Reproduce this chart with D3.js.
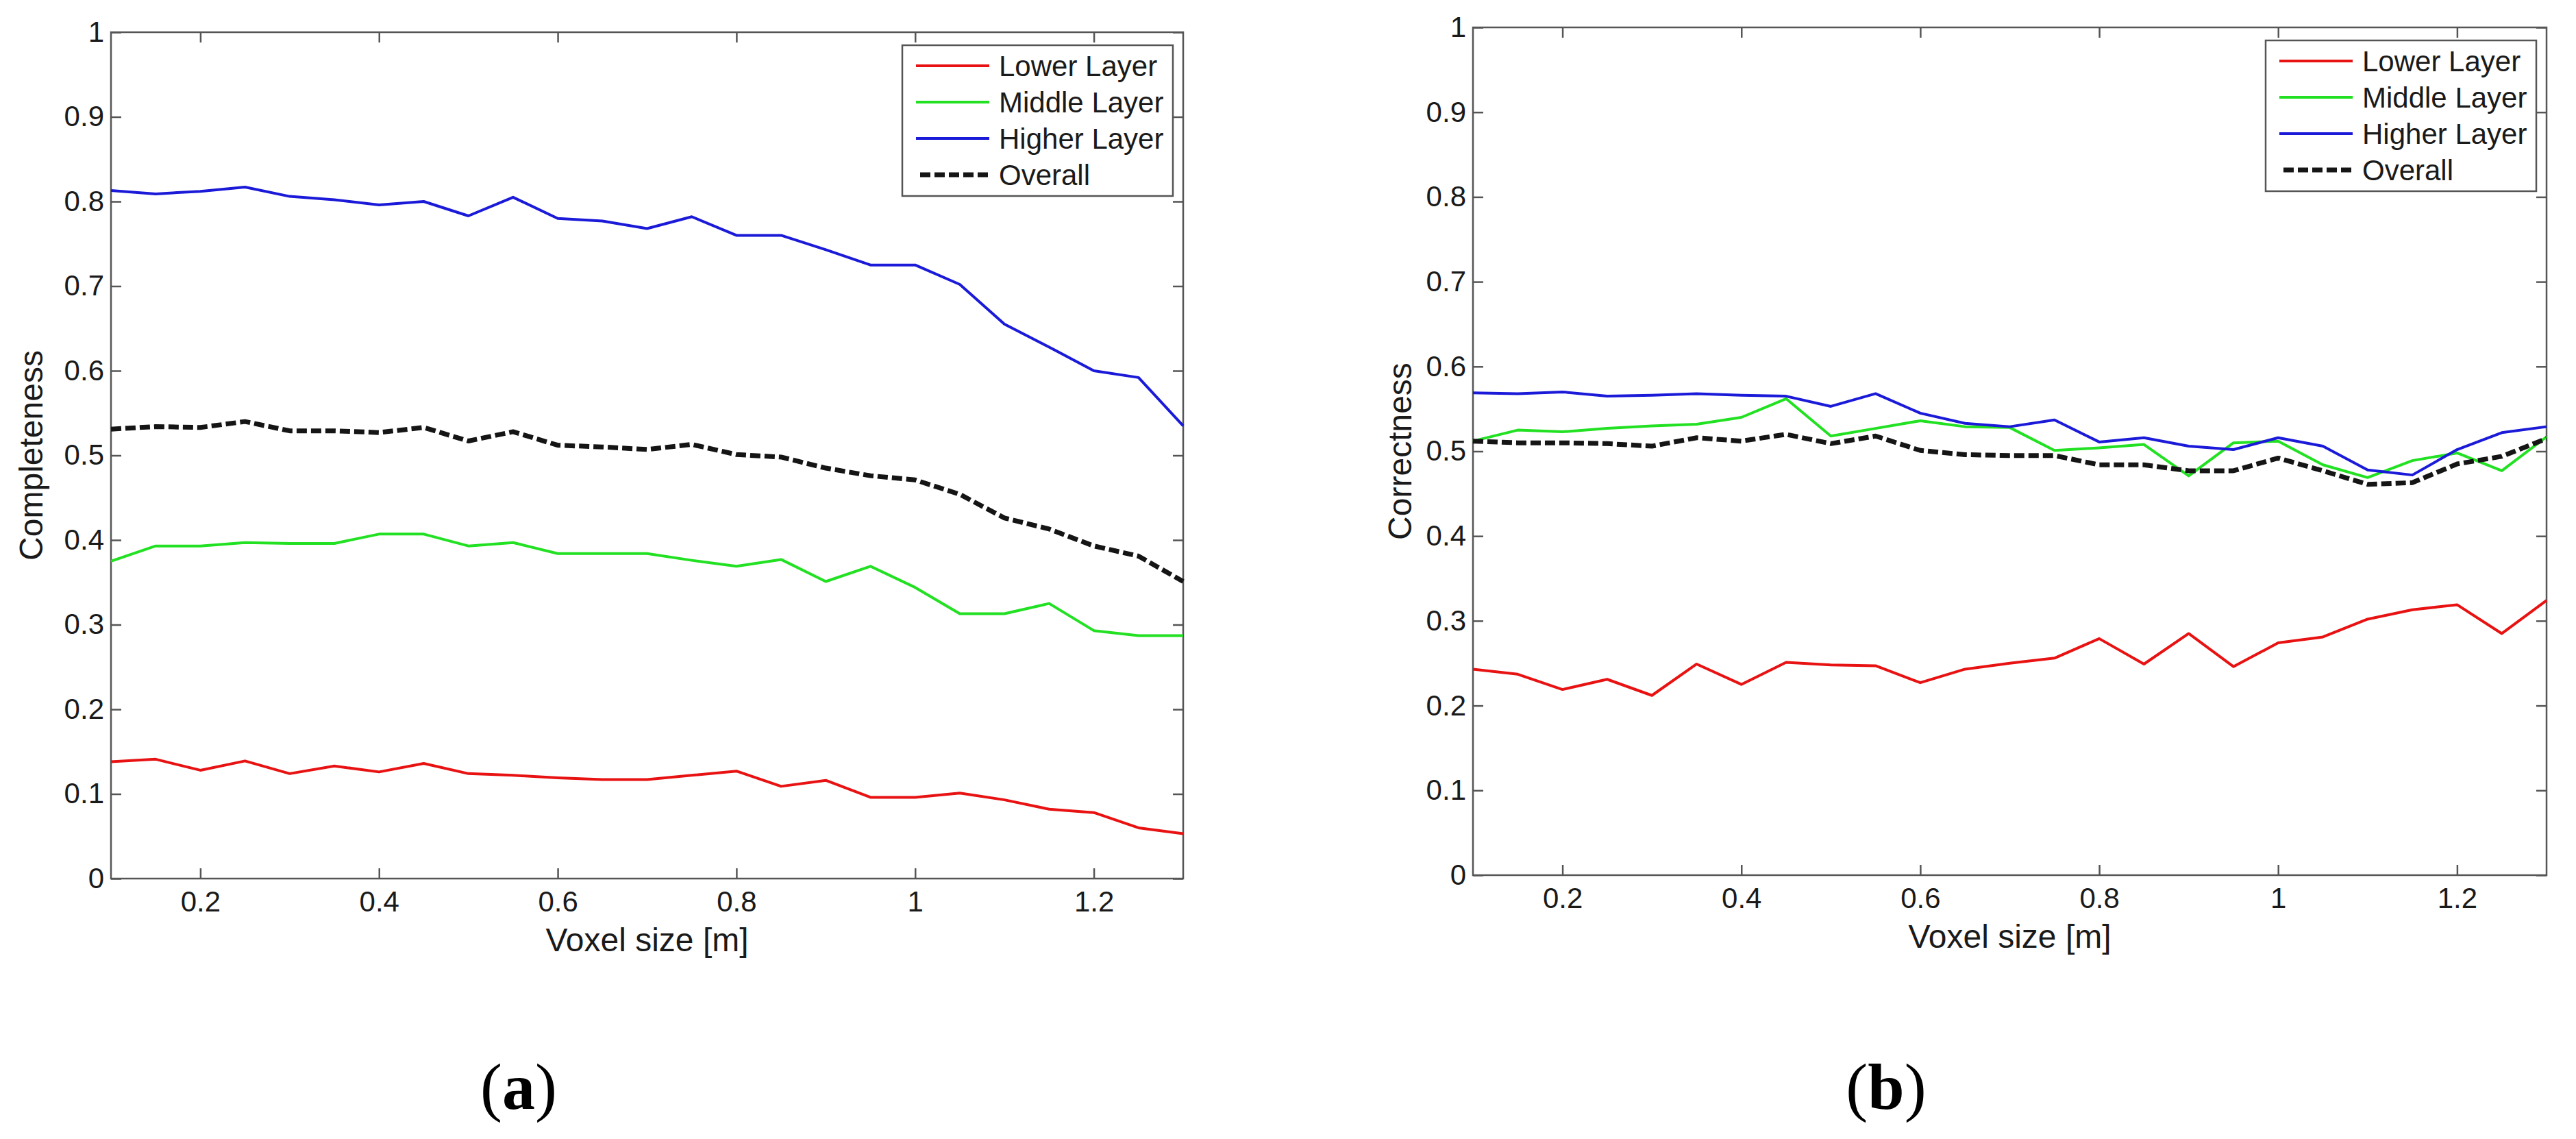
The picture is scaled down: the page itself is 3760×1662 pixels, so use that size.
<!DOCTYPE html>
<meta charset='utf-8'>
<style type="text/css">
  body { margin: 0; background: #fff; }
  svg text { font-family: "Liberation Sans", Arial, sans-serif; fill: #1a1a1a; }
  .tick line { stroke: #555; stroke-width: 2.5; }
  .domain { display: none; }
</style>
<body>
<div class="chart"></div>
<script src="https://cdn.jsdelivr.net/npm/d3@7"></script>
<script>

// voxel sizes along the x axis
var voxelSize = [0.1, 0.15, 0.2, 0.25, 0.3, 0.35, 0.4, 0.45, 0.5, 0.55, 0.6, 0.65, 0.7,
                 0.75, 0.8, 0.85, 0.9, 0.95, 1.0, 1.05, 1.1, 1.15, 1.2, 1.25, 1.3];

var xTicks = [0.2, 0.4, 0.6, 0.8, 1, 1.2];
var yTicks = [0, 0.1, 0.2, 0.3, 0.4, 0.5, 0.6, 0.7, 0.8, 0.9, 1];

var seriesNames = ['Lower Layer', 'Middle Layer', 'Higher Layer', 'Overall'];

// (a) completeness
var complLower  = [0.138, 0.141, 0.128, 0.139, 0.124, 0.133, 0.126, 0.136, 0.124, 0.122, 0.119, 0.117, 0.117,
                   0.122, 0.127, 0.109, 0.116, 0.096, 0.096, 0.101, 0.093, 0.082, 0.078, 0.060, 0.053];
var complMiddle = [0.375, 0.393, 0.393, 0.397, 0.396, 0.396, 0.407, 0.407, 0.393, 0.397, 0.384, 0.384, 0.384,
                   0.376, 0.369, 0.377, 0.351, 0.369, 0.344, 0.313, 0.313, 0.325, 0.293, 0.287, 0.287];
var complHigher = [0.813, 0.809, 0.812, 0.817, 0.806, 0.802, 0.796, 0.800, 0.783, 0.805, 0.780, 0.777, 0.768,
                   0.782, 0.760, 0.760, 0.743, 0.725, 0.725, 0.702, 0.655, 0.628, 0.600, 0.592, 0.535];
var complOverall = [0.531, 0.534, 0.533, 0.540, 0.529, 0.529, 0.527, 0.533, 0.517, 0.528, 0.512, 0.510, 0.507,
                    0.513, 0.501, 0.498, 0.485, 0.476, 0.471, 0.454, 0.426, 0.413, 0.393, 0.381, 0.351];

// (b) correctness
var corrLower  = [0.243, 0.237, 0.219, 0.231, 0.212, 0.249, 0.225, 0.251, 0.248, 0.247, 0.227, 0.243, 0.250,
                  0.256, 0.279, 0.249, 0.285, 0.246, 0.274, 0.281, 0.302, 0.313, 0.319, 0.285, 0.324];
var corrMiddle = [0.512, 0.525, 0.523, 0.527, 0.530, 0.532, 0.540, 0.562, 0.518, 0.527, 0.536, 0.529, 0.528,
                  0.501, 0.504, 0.508, 0.471, 0.510, 0.512, 0.484, 0.469, 0.489, 0.498, 0.477, 0.517];
var corrHigher = [0.569, 0.568, 0.570, 0.565, 0.566, 0.568, 0.566, 0.565, 0.553, 0.568, 0.545, 0.533, 0.529,
                  0.537, 0.511, 0.516, 0.506, 0.502, 0.516, 0.506, 0.478, 0.472, 0.502, 0.522, 0.529];
var corrOverall = [0.512, 0.510, 0.510, 0.509, 0.506, 0.516, 0.512, 0.520, 0.509, 0.518, 0.501, 0.496, 0.495,
                   0.495, 0.484, 0.484, 0.477, 0.477, 0.492, 0.477, 0.461, 0.463, 0.485, 0.494, 0.515];

var colors = ['#e81212', '#22e022', '#1a1ad8', '#151515'];

var svg = d3.select('.chart')
	.append('svg')
	.attr('width', 3760)
	.attr('height', 1662);

var panels = [
	{ left: 162, right: 1727, top: 47, bottom: 1282, yLabel: 'Completeness', yLabelX: 62,
	  letter: 'a', letterX: 757, data: [complLower, complMiddle, complHigher, complOverall] },
	{ left: 2150, right: 3717, top: 40, bottom: 1277, yLabel: 'Correctness', yLabelX: 2060,
	  letter: 'b', letterX: 2753, data: [corrLower, corrMiddle, corrHigher, corrOverall] }
];

panels.forEach(function(p){
	var x = d3.scaleLinear().domain([0.1, 1.3]).range([p.left, p.right]);
	var y = d3.scaleLinear().domain([0, 1]).range([p.bottom, p.top]);
	var fmt = d3.format('~g');
	var g = svg.append('g');

	// axes, ticks pointing inwards on all four sides
	g.append('g')
		.attr('transform', 'translate(0,' + p.bottom + ')')
		.call(d3.axisBottom(x).tickValues(xTicks).tickFormat(fmt).tickSizeInner(-15).tickSizeOuter(0).tickPadding(18))
		.selectAll('text').attr('font-size', 42).attr('fill', '#1a1a1a')
		.attr('font-family', '"Liberation Sans", Arial, sans-serif');
	g.append('g')
		.attr('transform', 'translate(0,' + p.top + ')')
		.call(d3.axisTop(x).tickValues(xTicks).tickFormat('').tickSizeInner(-15).tickSizeOuter(0));
	g.append('g')
		.attr('transform', 'translate(' + p.left + ',0)')
		.call(d3.axisLeft(y).tickValues(yTicks).tickFormat(fmt).tickSizeInner(-15).tickSizeOuter(0).tickPadding(10))
		.selectAll('text').attr('font-size', 42).attr('fill', '#1a1a1a')
		.attr('font-family', '"Liberation Sans", Arial, sans-serif');
	g.append('g')
		.attr('transform', 'translate(' + p.right + ',0)')
		.call(d3.axisRight(y).tickValues(yTicks).tickFormat('').tickSizeInner(-15).tickSizeOuter(0));

	g.append('rect')
		.attr('x', x(0.1)).attr('y', y(1))
		.attr('width', x(1.3) - x(0.1)).attr('height', y(0) - y(1))
		.attr('fill', 'none').attr('stroke', '#555').attr('stroke-width', 2.5);

	// series
	var line = d3.line()
		.x(function(d, i){ return x(voxelSize[i]); })
		.y(function(d){ return y(d); });

	p.data.forEach(function(values, k){
		g.append('path')
			.datum(values)
			.attr('d', line)
			.attr('fill', 'none')
			.attr('stroke', colors[k])
			.attr('stroke-width', k === 3 ? 7 : 4)
			.attr('stroke-dasharray', k === 3 ? '15,6' : null)
			.attr('stroke-linejoin', 'round');
	});

	// axis titles
	g.append('text')
		.attr('x', (p.left + p.right) / 2)
		.attr('y', p.bottom + 106)
		.attr('text-anchor', 'middle')
		.attr('font-size', 48)
		.text('Voxel size [m]');
	g.append('text')
		.attr('transform', 'translate(' + p.yLabelX + ',' + ((p.top + p.bottom) / 2) + ') rotate(-90)')
		.attr('text-anchor', 'middle')
		.attr('font-size', 48)
		.text(p.yLabel);

	// legend
	var lx = p.right - 410, ly = p.top + 19;
	var legend = g.append('g').attr('transform', 'translate(' + lx + ',' + ly + ')');
	legend.append('rect')
		.attr('width', 395).attr('height', 220)
		.attr('fill', '#fff').attr('stroke', '#555').attr('stroke-width', 2.5);
	seriesNames.forEach(function(name, k){
		var yy = 30 + k * 53;
		legend.append('line')
			.attr('x1', k === 3 ? 26 : 20).attr('x2', 127)
			.attr('y1', yy).attr('y2', yy)
			.attr('stroke', colors[k])
			.attr('stroke-width', k === 3 ? 7 : 4)
			.attr('stroke-dasharray', k === 3 ? '15,6' : null);
		legend.append('text')
			.attr('x', 141).attr('y', yy)
			.attr('dy', '0.36em')
			.attr('font-size', 42)
			.text(name);
	});

	// panel letter
	var letter = g.append('text')
		.attr('x', p.letterX).attr('y', 1618)
		.attr('text-anchor', 'middle')
		.attr('font-size', 96)
		.style('font-family', '"Liberation Serif", "Times New Roman", serif')
		.style('fill', '#000');
	letter.append('tspan').text('(');
	letter.append('tspan').attr('font-weight', 'bold').text(p.letter);
	letter.append('tspan').text(')');
});

</script>
</body>
</html>
